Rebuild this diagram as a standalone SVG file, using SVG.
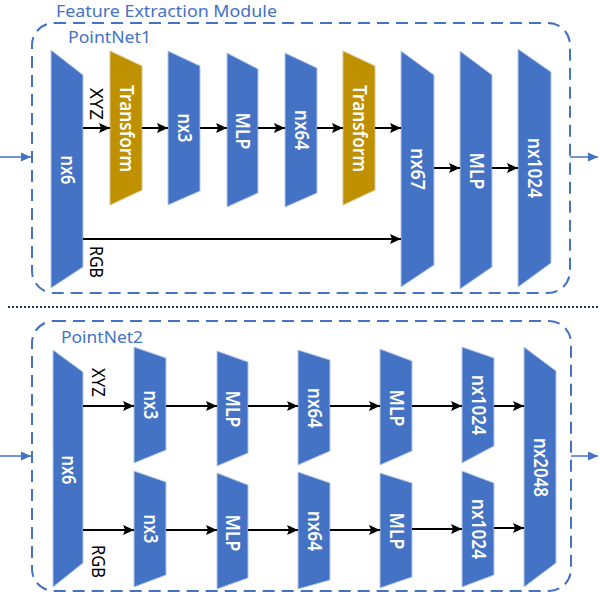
<svg xmlns="http://www.w3.org/2000/svg" width="600" height="594" viewBox="0 0 600 594">
<style>
.frame{fill:none;stroke:#4472C4;stroke-width:2;stroke-dasharray:12 7}
.blue{fill:#4472C4;stroke:#B4C7E7;stroke-width:1}
.gold{fill:#BF9000;stroke:#D9C38A;stroke-width:1}
.nt{font-family:"Noto Sans","Open Sans",sans-serif;font-size:19px;font-weight:600;fill:#FFFFFF;text-anchor:middle}
.lb{font-family:"Noto Sans","Open Sans",sans-serif;font-size:18.5px;fill:#000000;text-anchor:middle}
.ttl{font-family:"Noto Sans","Open Sans",sans-serif;font-size:17px;fill:#4472C4}
.conn{stroke:#000;stroke-width:2;fill:none;marker-end:url(#ah)}
.side{stroke:#4472C4;stroke-width:1.5;fill:none;marker-end:url(#bh)}
</style>
<defs>
<marker id="ah" markerUnits="userSpaceOnUse" markerWidth="12" markerHeight="12" refX="11" refY="6" orient="auto"><path d="M0,1 L11,6 L0,11 L2,6 z" fill="#000"/></marker>
<marker id="bh" markerUnits="userSpaceOnUse" markerWidth="11" markerHeight="11" refX="10" refY="5.5" orient="auto"><path d="M0,1 L10,5.5 L0,10 z" fill="#4472C4"/></marker>
</defs>
<rect width="600" height="594" fill="#FFFFFF"/>

<g id="module-title"><text class="ttl" x="56" y="17" style="font-size:15.5px" textLength="221" lengthAdjust="spacingAndGlyphs">Feature Extraction Module</text></g>

<g id="pointnet1-frame">
<rect class="frame" x="32" y="23" width="538" height="270" rx="22"/>
<text class="ttl" x="68" y="43" textLength="83" lengthAdjust="spacingAndGlyphs">PointNet1</text>
</g>

<g id="separator"><line x1="8" y1="307" x2="598" y2="307" stroke="#1F3864" stroke-width="2" stroke-dasharray="2 2"/></g>

<g id="pointnet2-frame">
<rect class="frame" x="32" y="321" width="539" height="270" rx="22"/>
<text class="ttl" x="61" y="343" textLength="82" lengthAdjust="spacingAndGlyphs">PointNet2</text>
</g>

<!-- PointNet1 nodes -->
<g id="p1-nx6"><polygon class="blue" points="51,50 83,75 83,267 51,288"/><text class="nt" transform="translate(60.5,170) rotate(90)" textLength="29" lengthAdjust="spacingAndGlyphs">nx6</text></g>
<g id="p1-transform1"><polygon class="gold" points="110,51 142,66 142,190 110,205"/><text class="nt" transform="translate(119.5,128.5) rotate(90)" textLength="87" lengthAdjust="spacingAndGlyphs">Transform</text></g>
<g id="p1-nx3"><polygon class="blue" points="168,51 200,66 200,191 168,205"/><text class="nt" transform="translate(177.5,128) rotate(90)" textLength="29" lengthAdjust="spacingAndGlyphs">nx3</text></g>
<g id="p1-mlp1"><polygon class="blue" points="227,53 258,69 258,193 227,207"/><text class="nt" transform="translate(236,131) rotate(90)" textLength="37" lengthAdjust="spacingAndGlyphs">MLP</text></g>
<g id="p1-nx64"><polygon class="blue" points="285,53 317,68 317,193 285,207"/><text class="nt" transform="translate(294.5,130) rotate(90)" textLength="40" lengthAdjust="spacingAndGlyphs">nx64</text></g>
<g id="p1-transform2"><polygon class="gold" points="343,51 375,66 375,190 343,205"/><text class="nt" transform="translate(352.5,128.5) rotate(90)" textLength="87" lengthAdjust="spacingAndGlyphs">Transform</text></g>
<g id="p1-nx67"><polygon class="blue" points="401,51 434,75 434,265 401,287"/><text class="nt" transform="translate(411,169) rotate(90)" textLength="42" lengthAdjust="spacingAndGlyphs">nx67</text></g>
<g id="p1-mlp2"><polygon class="blue" points="460,51 492,75 492,267 460,289"/><text class="nt" transform="translate(469.5,171) rotate(90)" textLength="37" lengthAdjust="spacingAndGlyphs">MLP</text></g>
<g id="p1-nx1024"><polygon class="blue" points="518,49 551,72 551,263 518,287"/><text class="nt" transform="translate(528,168) rotate(90)" textLength="60" lengthAdjust="spacingAndGlyphs">nx1024</text></g>

<!-- PointNet2 nodes -->
<g id="p2-nx6"><polygon class="blue" points="53,350 83,372 83,563 53,587"/><text class="nt" transform="translate(61.5,470) rotate(90)" textLength="29" lengthAdjust="spacingAndGlyphs">nx6</text></g>
<g id="p2-nx3-xyz"><polygon class="blue" points="134,347 166,358 166,450 134,463"/><text class="nt" transform="translate(143.5,405) rotate(90)" textLength="29" lengthAdjust="spacingAndGlyphs">nx3</text></g>
<g id="p2-mlp-xyz1"><polygon class="blue" points="217,351 248,362 248,453 217,466"/><text class="nt" transform="translate(226,409) rotate(90)" textLength="37" lengthAdjust="spacingAndGlyphs">MLP</text></g>
<g id="p2-nx64-xyz"><polygon class="blue" points="298,350 330,360 330,451 298,465"/><text class="nt" transform="translate(307.5,408) rotate(90)" textLength="40" lengthAdjust="spacingAndGlyphs">nx64</text></g>
<g id="p2-mlp-xyz2"><polygon class="blue" points="380,349 412,361 412,451 380,465"/><text class="nt" transform="translate(389.5,408) rotate(90)" textLength="37" lengthAdjust="spacingAndGlyphs">MLP</text></g>
<g id="p2-nx1024-xyz"><polygon class="blue" points="462,347 494,358 494,446 462,463"/><text class="nt" transform="translate(471.5,405) rotate(90)" textLength="60" lengthAdjust="spacingAndGlyphs">nx1024</text></g>
<g id="p2-nx3-rgb"><polygon class="blue" points="134,471 166,482 166,575 134,587"/><text class="nt" transform="translate(143.5,529) rotate(90)" textLength="29" lengthAdjust="spacingAndGlyphs">nx3</text></g>
<g id="p2-mlp-rgb1"><polygon class="blue" points="217,473 248,485 248,578 217,589"/><text class="nt" transform="translate(226,533) rotate(90)" textLength="37" lengthAdjust="spacingAndGlyphs">MLP</text></g>
<g id="p2-nx64-rgb"><polygon class="blue" points="298,472 330,483 330,580 298,589"/><text class="nt" transform="translate(307.5,531) rotate(90)" textLength="40" lengthAdjust="spacingAndGlyphs">nx64</text></g>
<g id="p2-mlp-rgb2"><polygon class="blue" points="380,473 412,483 412,577 380,588"/><text class="nt" transform="translate(389.5,531) rotate(90)" textLength="37" lengthAdjust="spacingAndGlyphs">MLP</text></g>
<g id="p2-nx1024-rgb"><polygon class="blue" points="462,471 494,483 494,575 462,587"/><text class="nt" transform="translate(471.5,529) rotate(90)" textLength="60" lengthAdjust="spacingAndGlyphs">nx1024</text></g>
<g id="p2-nx2048"><polygon class="blue" points="524,347 556,371 556,563 524,587"/><text class="nt" transform="translate(533.5,467.5) rotate(90)" textLength="59" lengthAdjust="spacingAndGlyphs">nx2048</text></g>

<g id="connectors">
<line class="side" x1="0" y1="157" x2="31" y2="157"/>
<line class="side" x1="570" y1="157" x2="598" y2="157"/>
<line class="side" x1="0" y1="456" x2="31" y2="456"/>
<line class="side" x1="571" y1="456" x2="598" y2="456"/>

<line class="conn" x1="83" y1="128" x2="110" y2="128"/>
<line class="conn" x1="142" y1="128" x2="168" y2="128"/>
<line class="conn" x1="200" y1="128" x2="227" y2="128"/>
<line class="conn" x1="258" y1="128" x2="285" y2="128"/>
<line class="conn" x1="317" y1="128" x2="343" y2="128"/>
<line class="conn" x1="375" y1="128" x2="401" y2="128"/>
<line class="conn" x1="434" y1="168" x2="460" y2="168"/>
<line class="conn" x1="492" y1="168" x2="518" y2="168"/>
<line class="conn" x1="83" y1="239" x2="401" y2="239"/>

<line class="conn" x1="83" y1="406" x2="134" y2="406"/>
<line class="conn" x1="166" y1="406" x2="217" y2="406"/>
<line class="conn" x1="248" y1="406" x2="298" y2="406"/>
<line class="conn" x1="330" y1="406" x2="380" y2="406"/>
<line class="conn" x1="412" y1="406" x2="462" y2="406"/>
<line class="conn" x1="494" y1="406" x2="524" y2="406"/>
<line class="conn" x1="83" y1="530" x2="134" y2="530"/>
<line class="conn" x1="166" y1="530" x2="217" y2="530"/>
<line class="conn" x1="248" y1="530" x2="298" y2="530"/>
<line class="conn" x1="330" y1="530" x2="380" y2="530"/>
<line class="conn" x1="412" y1="529" x2="462" y2="529"/>
<line class="conn" x1="494" y1="528" x2="524" y2="528"/>
</g>

<g id="labels">
<text class="lb" transform="translate(90,104) rotate(90)" textLength="32" lengthAdjust="spacingAndGlyphs">XYZ</text>
<text class="lb" transform="translate(90,262) rotate(90)" textLength="32" lengthAdjust="spacingAndGlyphs">RGB</text>
<text class="lb" transform="translate(92,382.5) rotate(90)" textLength="29" lengthAdjust="spacingAndGlyphs">XYZ</text>
<text class="lb" transform="translate(92,561.5) rotate(90)" textLength="33" lengthAdjust="spacingAndGlyphs">RGB</text>
</g>
</svg>
